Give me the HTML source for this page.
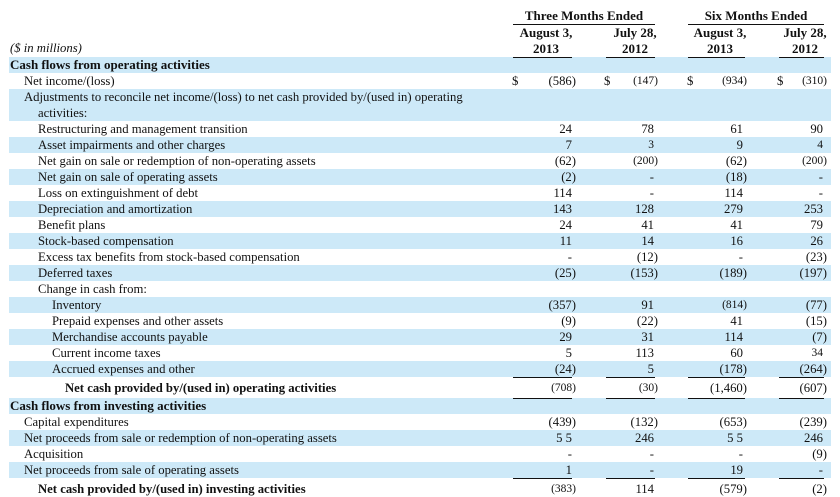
<!DOCTYPE html>
<html><head><meta charset="utf-8"><style>
body{margin:0;width:840px;height:497px;background:#fff;position:relative;overflow:hidden;font-family:"Liberation Serif",serif;font-size:12.7px;color:#111}
.b{position:absolute;left:9px;width:822px;background:#cde9f8}
.t{position:absolute;white-space:nowrap;line-height:16px}
.bold{font-weight:bold}
.v{position:absolute;white-space:nowrap;text-align:right;line-height:16px}
.l{position:absolute;height:1px;background:#111}
.h{position:absolute;font-weight:bold;font-size:13px;text-align:center;line-height:16px;white-space:nowrap}
.s{font-size:11.5px}
</style></head><body>
<div class="b" style="top:57px;height:16px"></div>
<div class="b" style="top:89px;height:32px"></div>
<div class="b" style="top:137px;height:16px"></div>
<div class="b" style="top:169px;height:16px"></div>
<div class="b" style="top:201px;height:16px"></div>
<div class="b" style="top:233px;height:16px"></div>
<div class="b" style="top:265px;height:16px"></div>
<div class="b" style="top:297px;height:16px"></div>
<div class="b" style="top:329px;height:16px"></div>
<div class="b" style="top:361px;height:16px"></div>
<div class="b" style="top:398px;height:16px"></div>
<div class="b" style="top:430px;height:16px"></div>
<div class="b" style="top:462px;height:16px"></div>

<div class="h" style="left:513px;width:142px;top:8px">Three Months Ended</div>
<div class="l" style="left:513px;width:142px;top:24px"></div>
<div class="h" style="left:688px;width:136px;top:8px">Six Months Ended</div>
<div class="l" style="left:688px;width:136px;top:24px"></div>
<div class="h" style="left:506px;width:80px;top:25px">August 3,<br>2013</div>
<div class="h" style="left:600px;width:70px;top:25px">July 28,<br>2012</div>
<div class="h" style="left:680px;width:80px;top:25px">August 3,<br>2013</div>
<div class="h" style="left:770px;width:70px;top:25px">July 28,<br>2012</div>
<div class="l" style="left:513px;width:59px;top:57px"></div>
<div class="l" style="left:606px;width:49px;top:57px"></div>
<div class="l" style="left:688px;width:57px;top:57px"></div>
<div class="l" style="left:779px;width:45px;top:57px"></div>

<div class="t" style="left:10px;top:40px;font-style:italic">($ in millions)</div>
<div class="t bold" style="left:10px;top:57px;font-size:13px">Cash flows from operating activities</div>
<div class="t" style="left:24px;top:73px">Net income/(loss)</div>
<div class="t" style="left:24px;top:89px">Adjustments to reconcile net income/(loss) to net cash provided by/(used in) operating</div>
<div class="t" style="left:38px;top:105px">activities:</div>
<div class="t" style="left:38px;top:121px">Restructuring and management transition</div>
<div class="t" style="left:38px;top:137px">Asset impairments and other charges</div>
<div class="t" style="left:38px;top:153px">Net gain on sale or redemption of non-operating assets</div>
<div class="t" style="left:38px;top:169px">Net gain on sale of operating assets</div>
<div class="t" style="left:38px;top:185px">Loss on extinguishment of debt</div>
<div class="t" style="left:38px;top:201px">Depreciation and amortization</div>
<div class="t" style="left:38px;top:217px">Benefit plans</div>
<div class="t" style="left:38px;top:233px">Stock-based compensation</div>
<div class="t" style="left:38px;top:249px">Excess tax benefits from stock-based compensation</div>
<div class="t" style="left:38px;top:265px">Deferred taxes</div>
<div class="t" style="left:38px;top:281px">Change in cash from:</div>
<div class="t" style="left:52px;top:297px">Inventory</div>
<div class="t" style="left:52px;top:313px">Prepaid expenses and other assets</div>
<div class="t" style="left:52px;top:329px">Merchandise accounts payable</div>
<div class="t" style="left:52px;top:345px">Current income taxes</div>
<div class="t" style="left:52px;top:361px">Accrued expenses and other</div>
<div class="t bold" style="left:65px;top:380px">Net cash provided by/(used in) operating activities</div>
<div class="t bold" style="left:10px;top:398px;font-size:13px">Cash flows from investing activities</div>
<div class="t" style="left:24px;top:414px">Capital expenditures</div>
<div class="t" style="left:24px;top:430px">Net proceeds from sale or redemption of non-operating assets</div>
<div class="t" style="left:24px;top:446px">Acquisition</div>
<div class="t" style="left:24px;top:462px">Net proceeds from sale of operating assets</div>
<div class="t bold" style="left:38px;top:481px">Net cash provided by/(used in) investing activities</div>

<div class="t" style="left:512px;top:73px">$</div>
<div class="t" style="left:604px;top:73px">$</div>
<div class="t" style="left:687px;top:73px">$</div>
<div class="t" style="left:777px;top:73px">$</div>

<div id="vals"></div>
<script>
var rows=[
[73,"(586)","(147)s","(934)s","(310)s"],
[121,"24","78","61","90"],
[137,"7","3s","9","4s"],
[153,"(62)","(200)s","(62)","(200)s"],
[169,"(2)","-","(18)","-"],
[185,"114","-","114","-"],
[201,"143","128","279","253"],
[217,"24","41","41","79"],
[233,"11","14","16","26"],
[249,"-","(12)","-","(23)"],
[265,"(25)","(153)","(189)","(197)"],
[297,"(357)","91","(814)s","(77)"],
[313,"(9)","(22)","41","(15)"],
[329,"29","31","114","(7)"],
[345,"5","113","60","34s"],
[361,"(24)","5","(178)","(264)"],
[380,"(708)s","(30)s","(1,460)","(607)"],
[414,"(439)","(132)","(653)","(239)"],
[430,"5 5","246","5 5","246"],
[446,"-","-","-","(9)"],
[462,"1","-","19","-"],
[481,"(383)s","114","(579)","(2)"]];
var R=[576,658,747,827],h="";
rows.forEach(function(r){for(var i=0;i<4;i++){var v=r[i+1];if(!v)continue;var s=v.slice(-1)=="s";if(s)v=v.slice(0,-1);
var pos=v.slice(-1)!=")";h+='<div class="v'+(s?' s':'')+'" style="top:'+r[0]+'px;right:'+(840-R[i]+(pos?4:0))+'px">'+v+'</div>';}});
var L=[[513,59],[606,49],[688,57],[779,45]];
[377,398,478].forEach(function(y){L.forEach(function(c){h+='<div class="l" style="left:'+c[0]+'px;width:'+c[1]+'px;top:'+y+'px"></div>';});});
document.getElementById("vals").innerHTML=h;
</script>
</body></html>
